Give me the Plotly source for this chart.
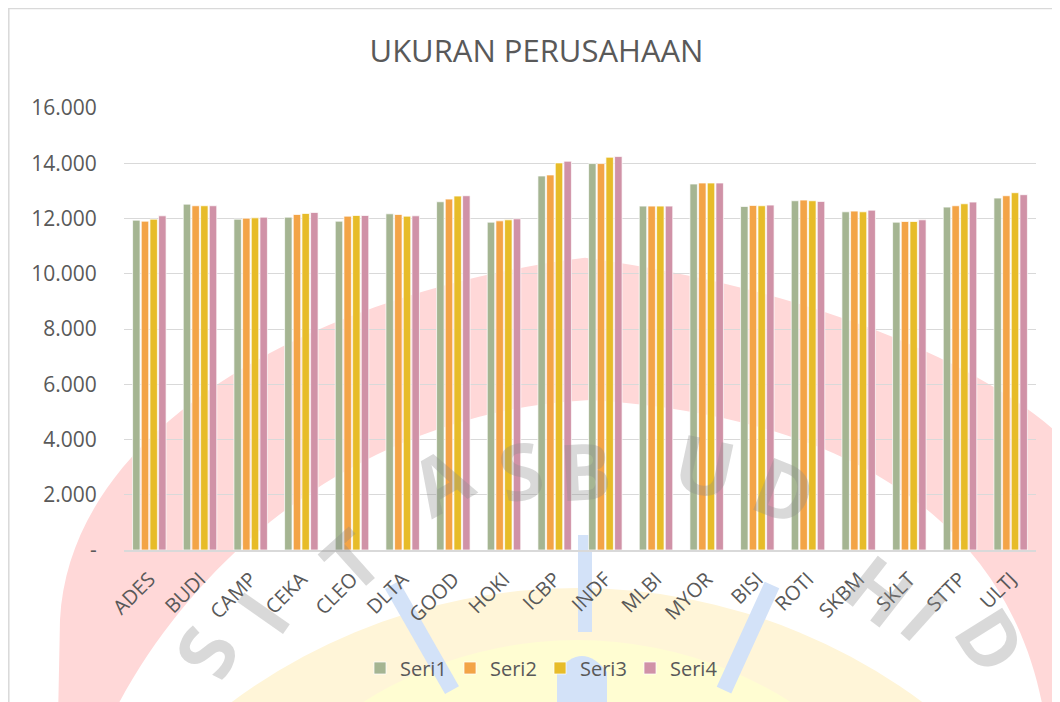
import plotly.graph_objects as go

categories = ["ADES", "BUDI", "CAMP", "CEKA", "CLEO", "DLTA", "GOOD", "HOKI", "ICBP",
              "INDF", "MLBI", "MYOR", "BISI", "ROTI", "SKBM", "SKLT", "STTP", "ULTJ"]
seri1 = [11940, 12520, 11976, 12048, 11903, 12170, 12606, 11867, 13539,
         13988, 12448, 13248, 12436, 12642, 12242, 11867, 12412, 12739]
seri2 = [11903, 12461, 12012, 12145, 12085, 12145, 12703, 11915, 13576,
         13988, 12448, 13285, 12473, 12667, 12267, 11891, 12461, 12824]
seri3 = [11976, 12461, 12024, 12182, 12109, 12085, 12812, 11952, 14012,
         14218, 12448, 13285, 12461, 12642, 12242, 11891, 12533, 12933]
seri4 = [12097, 12461, 12048, 12218, 12109, 12097, 12824, 11988, 14073,
         14242, 12448, 13285, 12485, 12618, 12303, 11952, 12594, 12861]
series_names = ["Seri1", "Seri2", "Seri3", "Seri4"]
series_colors = ["#A5B592", "#F3A447", "#E7BC29", "#D092A7"]
y_tickvals = [0, 2000, 4000, 6000, 8000, 10000, 12000, 14000, 16000]
y_ticktext = ["-", "2.000", "4.000", "6.000", "8.000", "10.000", "12.000", "14.000", "16.000"]

# the page body has an 8px margin; work in screen pixels and shift
OFF = 8
W, H = 1060 - OFF, 702 - OFF
PL, PR, PT, PB = 124, 1036, 108.3, 550.0   # plot area in screen pixels


def px(x):
    return (x - PL) / (PR - PL)


def py(y):
    return (PB - y) / (PB - PT)


def cx(x):
    return (x - OFF) / W


def cy(y):
    return 1 - (y - OFF) / H


fig = go.Figure()
for name, vals, col in zip(series_names, [seri1, seri2, seri3, seri4], series_colors):
    fig.add_trace(go.Bar(name=name, x=categories, y=vals,
                         marker=dict(color=col, line=dict(color="rgba(255,255,255,0.9)", width=0.8))))

shapes = []


def circle(x0c, y0c, r, color):
    shapes.append(dict(type="circle", xref="paper", yref="paper", layer="below",
                       x0=px(x0c - r), x1=px(x0c + r), y0=py(y0c + r), y1=py(y0c - r),
                       fillcolor=color, line=dict(width=0)))


def band(x0, y0, x1, y1, w, color):
    shapes.append(dict(type="line", xref="paper", yref="paper", layer="below",
                       x0=px(x0), y0=py(y0), x1=px(x1), y1=py(y1),
                       line=dict(color=color, width=w)))


def P(x, y):
    return "{:.5f},{:.5f}".format(px(x), py(y))


# watermark (logo) approximation: pink outer band
pink_path = ("M " + P(58, 720) + " L " + P(60, 620) +
             " C " + P(70, 420) + " " + P(330, 290) + " " + P(585, 258) +
             " C " + P(820, 290) + " " + P(1000, 370) + " " + P(1075, 450) +
             " L " + P(1075, 720) + " L " + P(1045, 720) +
             " C " + P(1020, 560) + " " + P(900, 420) + " " + P(590, 400) +
             " C " + P(380, 410) + " " + P(200, 540) + " " + P(110, 720) + " Z")
shapes.append(dict(type="path", xref="paper", yref="paper", layer="below",
                   path=pink_path, fillcolor="#FFD8D8", line=dict(width=0)))
circle(577, 1168, 580, "#FFF5D8")
circle(577, 1040, 400, "#FFFDD2")
band(392, 585, 452, 690, 16, "#D3E2F8")
band(585, 535, 585, 632, 14, "#D3E2F8")
band(772, 585, 724, 690, 16, "#D3E2F8")
shapes.append(dict(type="path", xref="paper", yref="paper", layer="below",
                   path="M " + P(557, 710) + " L " + P(557, 672) + " Q " + P(582, 640) + " " +
                   P(607, 672) + " L " + P(607, 710) + " Z",
                   fillcolor="#D3E2F8", line=dict(width=0)))

# outer chart border
shapes.append(dict(type="rect", xref="paper", yref="paper", layer="above",
                   x0=px(8.8), x1=px(1075), y0=py(720), y1=py(8.8),
                   line=dict(color="#D9D9D9", width=1.5), fillcolor="rgba(0,0,0,0)"))

letters = [("S", 205, 652, -64), ("I", 262, 612, -55), ("T", 350, 560, -42),
           ("A", 440, 480, -30), ("S", 520, 470, -12), ("B", 585, 470, -3),
           ("U", 705, 465, 12), ("D", 785, 490, 22), ("H", 880, 590, 38),
           ("I", 925, 615, 42), ("D", 992, 640, 58)]
annotations = []
for t, x, y, a in letters:
    annotations.append(dict(text="<b>" + t + "</b>", xref="paper", yref="paper",
                            x=px(x), y=py(y), showarrow=False, textangle=a,
                            font=dict(family="Open Sans", size=78, color="rgba(140,140,140,0.33)"),
                            xanchor="center", yanchor="middle"))

fig.update_layout(
    width=W, height=H,
    margin=dict(l=PL - OFF, r=W - (PR - OFF), t=PT - OFF, b=H - (PB - OFF), autoexpand=False),
    paper_bgcolor="white", plot_bgcolor="rgba(0,0,0,0)",
    barmode="group", bargap=0.315, bargroupgap=0.14,
    font=dict(family="Open Sans", color="#595959"),
    title=dict(text="UKURAN PERUSAHAAN", xref="container", x=cx(536.5), xanchor="center",
               yref="container", y=cy(51.5), yanchor="middle",
               font=dict(family="Open Sans", size=31, color="#595959")),
    legend=dict(orientation="h", xref="container", yref="container", x=cx(540), xanchor="center",
                y=cy(668), yanchor="middle", font=dict(size=20, color="#595959"),
                bgcolor="rgba(0,0,0,0)", itemwidth=30, traceorder="normal",
                entrywidth=45, entrywidthmode="pixels"),
    shapes=shapes, annotations=annotations,
)
fig.update_yaxes(range=[0, 16000], tickvals=y_tickvals, ticktext=y_ticktext, automargin=False,
                 showgrid=True, gridcolor="#D9D9D9", gridwidth=1.3, zeroline=False,
                 ticks="outside", ticklen=22, tickcolor="rgba(0,0,0,0)",
                 tickfont=dict(family="Open Sans", size=21, color="#595959"), showline=False)
fig.update_xaxes(tickangle=-45, showline=True, linecolor="#D9D9D9", linewidth=1.5, automargin=False,
                 ticks="outside", ticklen=8, tickcolor="rgba(0,0,0,0)",
                 tickfont=dict(family="Open Sans", size=20, color="#595959"))

fig.write_html("out.html")
